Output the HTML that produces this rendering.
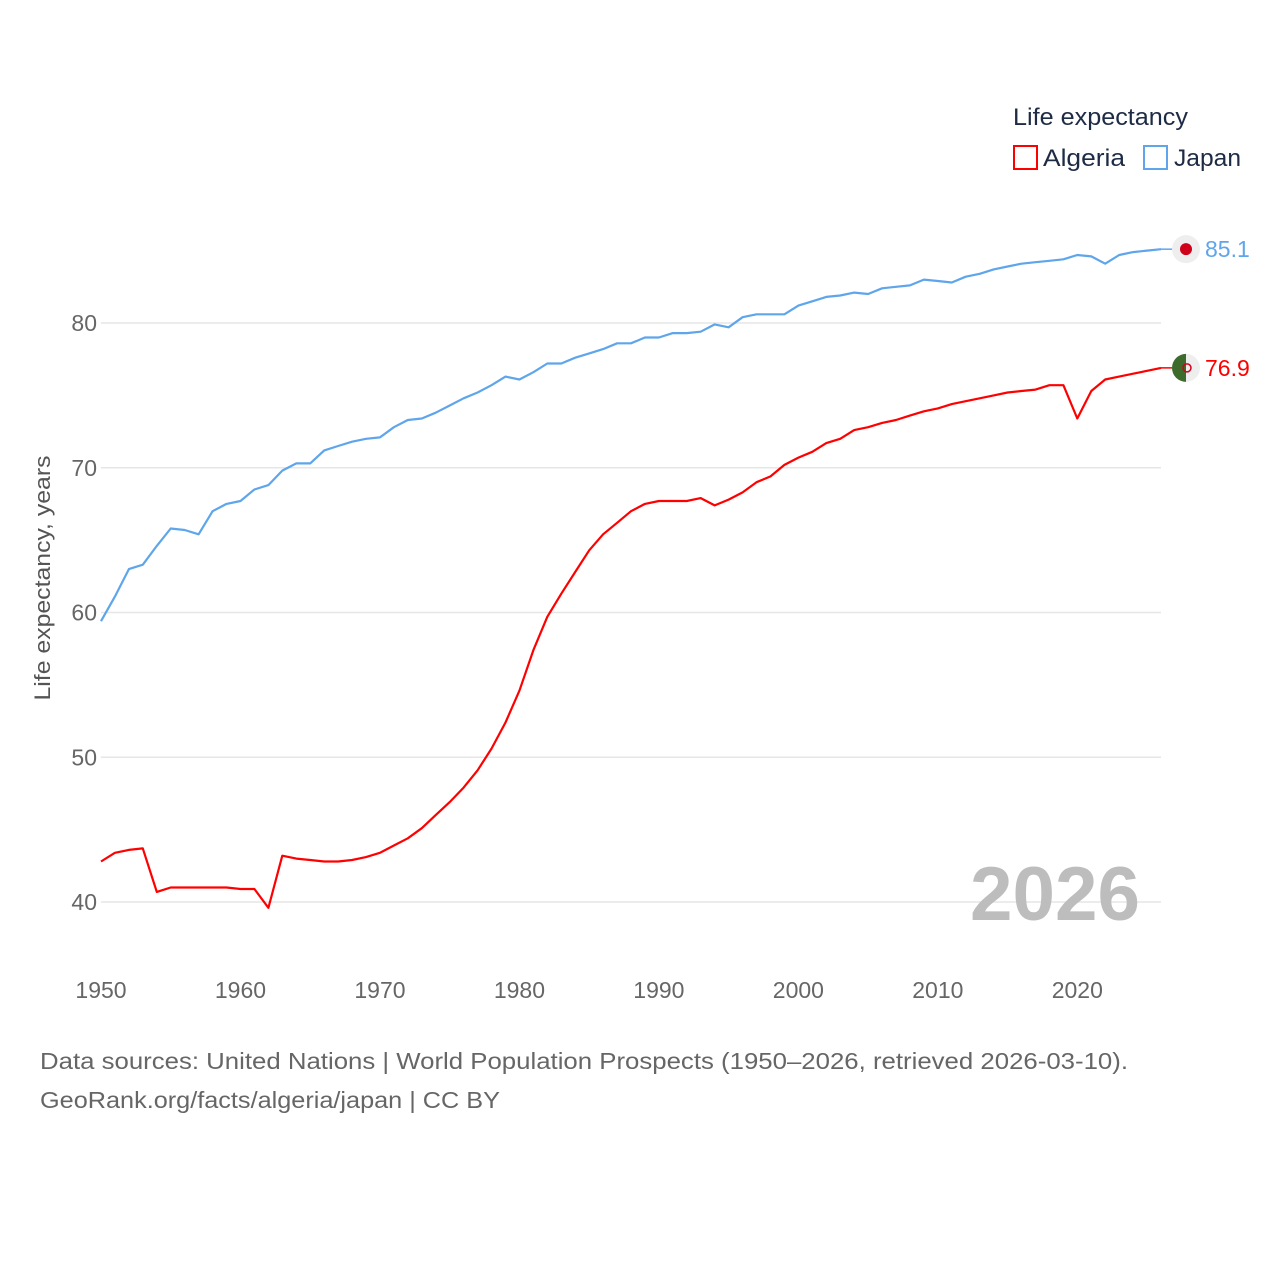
<!DOCTYPE html>
<html><head><meta charset="utf-8">
<style>
body{margin:0;background:#fff;width:1280px;height:1280px;overflow:hidden;font-family:"Liberation Sans",sans-serif;}
svg text{font-family:"Liberation Sans",sans-serif;}
</style></head>
<body>
<svg id="chart" width="1280" height="1280" xmlns="http://www.w3.org/2000/svg">
  <g id="grid"></g>
  <g id="yticks"></g>
  <g id="xticks"></g>
  <text transform="translate(50,578) rotate(-90)" text-anchor="middle" font-size="22" fill="#555" textLength="245" lengthAdjust="spacingAndGlyphs">Life expectancy, years</text>
  <text x="1140" y="920" text-anchor="end" font-size="76" font-weight="bold" fill="#bdbdbd" textLength="170" lengthAdjust="spacingAndGlyphs">2026</text>
  <g id="series"></g>
  <g>
    <text x="1013" y="125" font-size="24" fill="#1d2b45" textLength="175" lengthAdjust="spacingAndGlyphs">Life expectancy</text>
    <g>
      <rect x="1014" y="146" width="23" height="23" fill="none" stroke="#ff0000" stroke-width="2"/>
      <text x="1043" y="166" font-size="24" fill="#1d2b45" textLength="82" lengthAdjust="spacingAndGlyphs">Algeria</text>
    </g>
    <g>
      <rect x="1144" y="146" width="23" height="23" fill="none" stroke="#5ea5eb" stroke-width="2"/>
      <text x="1174" y="166" font-size="24" fill="#1d2b45" textLength="67" lengthAdjust="spacingAndGlyphs">Japan</text>
    </g>
  </g>
  <text x="40" y="1069" font-size="23" fill="#666" textLength="1088" lengthAdjust="spacingAndGlyphs">Data sources: United Nations | World Population Prospects (1950–2026, retrieved 2026-03-10).</text>
  <text x="40" y="1108" font-size="23" fill="#666" textLength="460" lengthAdjust="spacingAndGlyphs">GeoRank.org/facts/algeria/japan | CC BY</text>
</svg>
<script>
const years = [];
for (let y = 1950; y <= 2026; y++) years.push(y);
const japan = [59.4,61.1,63.0,63.3,64.6,65.8,65.7,65.4,67.0,67.5,67.7,68.5,68.8,69.8,70.3,70.3,71.2,71.5,71.8,72.0,72.1,72.8,73.3,73.4,73.8,74.3,74.8,75.2,75.7,76.3,76.1,76.6,77.2,77.2,77.6,77.9,78.2,78.6,78.6,79.0,79.0,79.3,79.3,79.4,79.9,79.7,80.4,80.6,80.6,80.6,81.2,81.5,81.8,81.9,82.1,82.0,82.4,82.5,82.6,83.0,82.9,82.8,83.2,83.4,83.7,83.9,84.1,84.2,84.3,84.4,84.7,84.6,84.1,84.7,84.9,85.0,85.1];
const algeria = [42.8,43.4,43.6,43.7,40.7,41.0,41.0,41.0,41.0,41.0,40.9,40.9,39.6,43.2,43.0,42.9,42.8,42.8,42.9,43.1,43.4,43.9,44.4,45.1,46.0,46.9,47.9,49.1,50.6,52.4,54.6,57.4,59.7,61.3,62.8,64.3,65.4,66.2,67.0,67.5,67.7,67.7,67.7,67.9,67.4,67.8,68.3,69.0,69.4,70.2,70.7,71.1,71.7,72.0,72.6,72.8,73.1,73.3,73.6,73.9,74.1,74.4,74.6,74.8,75.0,75.2,75.3,75.4,75.7,75.7,73.4,75.3,76.1,76.3,76.5,76.7,76.9];
const yTicks = [40,50,60,70,80];
const xTicks = [1950,1960,1970,1980,1990,2000,2010,2020];
const NS = "http://www.w3.org/2000/svg";
const X = y => 101 + (y - 1950) * (1161 - 101) / 76;
const Y = v => 902 - (v - 40) * (902 - 323) / 40;
function el(tag, attrs, parent){const e=document.createElementNS(NS,tag);for(const k in attrs)e.setAttribute(k,attrs[k]);parent.appendChild(e);return e;}
const grid=document.getElementById('grid'), yt=document.getElementById('yticks'), xt=document.getElementById('xticks'), ser=document.getElementById('series');
yTicks.forEach(v=>{
  const l=el('line',{x1:101,x2:1161,y1:Y(v),y2:Y(v),stroke:'#e6e6e6','stroke-width':1.5},grid);
  
  
  const t=el('text',{x:97,y:Y(v)+8,'text-anchor':'end','font-size':23,fill:'#666'},yt);
  t.textContent=v;
  
  
});
xTicks.forEach(v=>{
  const t=el('text',{x:X(v),y:998,'text-anchor':'middle','font-size':23,fill:'#666'},xt);
  t.textContent=v;
  
  
});
function drawSeries(vals,color,name){
  const d=vals.map((v,i)=>(i?'L':'M')+X(years[i]).toFixed(1)+','+Y(v).toFixed(1)).join('');
  const p=el('path',{d:d,fill:'none',stroke:color,'stroke-width':2.2,'stroke-linejoin':'round'},ser);
  
  
  const last=vals[vals.length-1], ly=Y(last);
  const c=el('line',{x1:1161,x2:1175,y1:ly,y2:ly,stroke:color,'stroke-width':1.5},ser);
  
  
  const t=el('text',{x:1205,y:ly+8,'font-size':23,fill:color},ser);
  t.textContent=last.toFixed(1);
  
  
  return ly;
}
const jy=drawSeries(japan,'#5ea5eb','japan');
const ay=drawSeries(algeria,'#ff0000','algeria');
const fj=el('circle',{cx:1186,cy:jy,r:14,fill:'#eeeeee'},ser);


el('circle',{cx:1186,cy:jy,r:6,fill:'#d0021b'},ser);
const fa=el('circle',{cx:1186,cy:ay,r:14,fill:'#eeeeee'},ser);


el('path',{d:`M1186,${ay-14} A14,14 0 0 0 1186,${ay+14} Z`,fill:'#3d6b2c'},ser);
el('circle',{cx:1187,cy:ay,r:4,fill:'none',stroke:'#d0021b','stroke-width':1.5},ser);
</script>
</body></html>
